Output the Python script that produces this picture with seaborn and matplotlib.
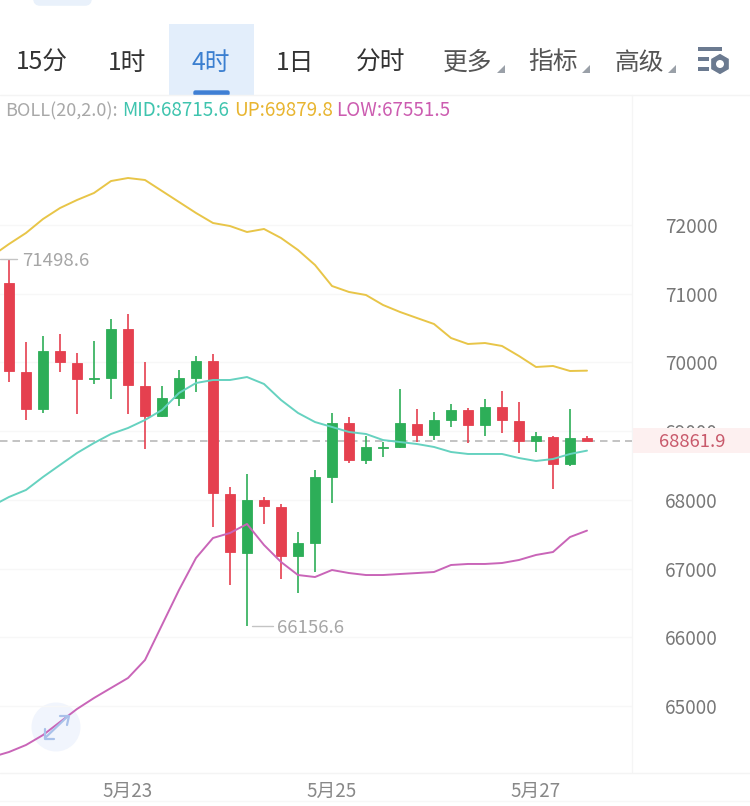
import matplotlib
matplotlib.use("Agg")
import matplotlib.pyplot as plt
from matplotlib.patches import Rectangle, Circle, RegularPolygon, FancyBboxPatch, Polygon
import numpy as np
import pandas as pd
import seaborn as sns

# ---------- data ----------
opens = [71156,69860,69322,70166,69991,69758,69773,70486,69656,69220,69482,69773,70020,68084,67226,67997,67895,67182,67371,68332,69118,68579,68760,68769,69103,68943,69162,69307,69089,69351,69147,68856,68914,68521,68900]
closes = [69875,69322,70166,70006,69758,69780,70486,69671,69220,69482,69773,70020,68099,67240,67997,67910,67182,67371,68332,69118,68579,68769,68769,69118,68943,69162,69307,69089,69351,69162,68856,68929,68521,68900,68861.9]
highs = [71498.6,70297,70384,70413,70137,70311,70632,70705,70000,69656,69890,70093,70122,68186,68376,68041,67939,67531,68434,69264,69205,68929,68841,69613,69322,69278,69394,69336,69467,69584,69424,68987,68929,69322,68929]
lows = [69715,69162,69264,69860,69249,69686,69467,69249,68739,69210,69365,69569,67604,66760,66156.6,67648,66847,66643,66949,67953,68536,68521,68623,68755,68841,68870,69060,68827,68929,68972,68681,68696,68157,68492,68856]
up_band = [71549,71723,71884,72087,72247,72364,72466,72640,72684,72655,72495,72335,72175,72029,71985,71898,71942,71811,71636,71418,71112,71025,70981,70836,70734,70646,70559,70355,70268,70282,70239,70093,69933,69948,69875,69879.8]
mid_band = [67910,68041,68143,68332,68507,68681,68827,68958,69045,69162,69307,69555,69700,69744,69744,69787,69686,69453,69264,69132,69060,68987,68958,68870,68841,68812,68769,68696,68667,68667,68667,68608,68565,68594,68667,68715.6]
low_band = [64256,64329,64431,64576,64766,64955,65115,65261,65406,65668,66178,66687,67153,67444,67517,67648,67342,67095,66905,66876,66978,66934,66905,66905,66920,66934,66949,67051,67066,67066,67080,67124,67197,67240,67458,67551.5]
y_ticks = [65000,66000,67000,68000,69000,70000,71000,72000]
date_pos = [7,19,31]
date_labels = ["5月23","5月25","5月27"]
tabs = ["15分","1时","4时","1日","分时","更多","指标","高级"]
last_price = 68861.9
max_price = 71498.6
min_price = 66156.6

RED, GREEN = "#e5404f", "#2dae58"
sns.set_theme(style="white")
plt.rcParams['font.family'] = ['Noto Sans CJK SC', 'DejaVu Sans']

W, H = 750, 806
fig = plt.figure(figsize=(W/100, H/100), dpi=100, facecolor="white")

def pix_axes(z):
    a = fig.add_axes([0,0,1,1], zorder=z)
    a.set_xlim(0,W); a.set_ylim(H,0); a.axis("off"); a.patch.set_alpha(0)
    return a

bg = pix_axes(0)
fg = pix_axes(3)

# ---------- background chrome ----------
bg.add_patch(FancyBboxPatch((36,-10),53,13,boxstyle="round,pad=0,rounding_size=4",fc="#e9f1fb",ec="#e9f1fb",lw=4))
bg.add_patch(Rectangle((169,24),85,71,fc="#e3eefb",ec="none"))
bg.add_patch(FancyBboxPatch((194,91),35,4,boxstyle="round,pad=0,rounding_size=1.5",fc="#3f7fd4",ec="#3f7fd4",lw=1))
tab_x = [42,127,211,295,381,468,553,639]
tab_c = ["#333333","#333333","#3b7fd0","#333333","#333333","#555555","#555555","#555555"]
for t,x,c in zip(tabs,tab_x,tab_c):
    bg.text(x,63,t,ha="center",va="center",fontsize=17.8,color=c)
for x in [497,582,668]:
    bg.add_patch(Polygon([[x+8,65],[x+8,73],[x,73]],fc="#9aa0a8",ec="none"))
for (x0,x1,y) in [(698,722,49),(698,709,59),(698,709,69)]:
    bg.add_patch(Rectangle((x0,y-2),x1-x0,4,fc="#6b7a90",ec="none"))
bg.add_patch(RegularPolygon((720,64),6,radius=11,fc="#6b7a90",ec="white",lw=1))
bg.add_patch(Circle((720,64),4,fc="white",ec="none"))
bg.plot([0,750],[95,95],color="#f4f4f4",lw=1)
bg.plot([632,632],[95,773],color="#f5f5f5",lw=1)
bg.plot([0,750],[773,773],color="#f4f4f4",lw=1)
bg.plot([0,750],[801,801],color="#f7f7f7",lw=1)

for s,c,x,fs in [("BOLL(20,2.0):","#a8a8a8",5,13),("MID:68715.6","#3fc4ae",122,13.6),("UP:69879.8","#e8b530",234,13.6),("LOW:67551.5","#cc5cb0",336,13.6)]:
    bg.text(x,111,s,ha="left",va="center",fontsize=fs,color=c)

bg.add_patch(Circle((56,727),24.5,fc="#f1f5fd",ec="none"))

# ---------- main chart ----------
pix_top, pix_bot = 95, 773
to_price = lambda y: 72000-(y-225)*14.556
ax = fig.add_axes([0,1-pix_bot/H,632/W,(pix_bot-pix_top)/H],zorder=1)
ax.patch.set_alpha(0)
ax.set_xlim(-9/17,(632-9)/17)
ax.set_ylim(to_price(pix_bot),to_price(pix_top))

ax.set_yticks(y_ticks)
ax.yaxis.tick_right()
ax.grid(axis="y",color="#f7f7f7",lw=1)
ax.set_axisbelow(True)
ax.set_xticks(date_pos,date_labels)
ax.tick_params(axis="y",length=0,pad=24,labelsize=13.7,labelcolor="#777777")
ax.tick_params(axis="x",length=0,pad=6,labelsize=13.5,labelcolor="#888888")
for s in ax.spines.values():
    s.set_visible(False)

ax.axhline(last_price,color="#b9b9b9",lw=1.2,ls=(0,(4.5,3)),zorder=1)

idx = np.arange(len(opens))
for i,o,c,h,l in zip(idx,opens,closes,highs,lows):
    col = GREEN if c>=o else RED
    ax.vlines(i,l,h,color=col,lw=1.2,zorder=2)
    ax.bar(i,abs(c-o),bottom=min(o,c),width=0.64,color=col,edgecolor=col,linewidth=0.6,zorder=3)

band_x = np.arange(-1,len(opens))
bands = pd.DataFrame({"x":band_x,"UP":up_band,"MID":mid_band,"LOW":low_band})
for name,col in [("UP","#e8c548"),("MID","#66d2c0"),("LOW","#c965b8")]:
    sns.lineplot(data=bands,x="x",y=name,ax=ax,color=col,lw=1.4,zorder=4,errorbar=None)
ax.set_xlabel(""); ax.set_ylabel("")

# extreme labels
ax.plot([-0.53,0.47],[max_price,max_price],color="#c4c4c4",lw=1,zorder=2)
ax.text(0.76,max_price-25,f"{max_price}",ha="left",va="center",fontsize=13.4,color="#a6a6a6")
ax.plot([14.3,15.5],[min_price,min_price],color="#c4c4c4",lw=1,zorder=2)
ax.text(15.76,min_price-25,f"{min_price}",ha="left",va="center",fontsize=13.4,color="#a6a6a6")

# ---------- foreground ----------
fg.add_patch(Rectangle((633,428),117,25,fc="#fdf0f0",ec="none"))
fg.text(692,442,f"{last_price}",ha="center",va="center",fontsize=13.3,color="#c8596b")
arrow = "#a9c1ea"
fg.plot([45,68],[738,716],color=arrow,lw=1.6)
fg.plot([60,69,67],[716,716,725],color=arrow,lw=1.6)
fg.plot([45,45,54],[729,739,739],color=arrow,lw=1.6)

fig.savefig("out.png",dpi=100)
